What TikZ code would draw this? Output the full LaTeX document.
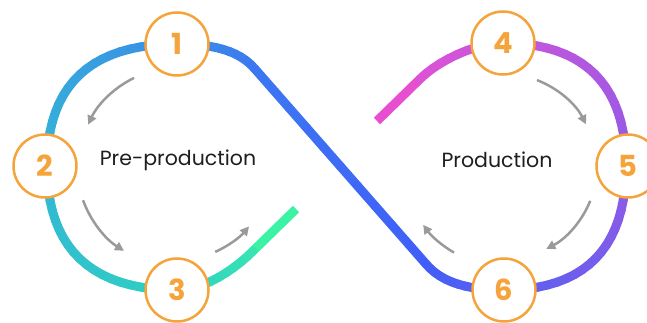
\documentclass[tikz,border=0pt]{standalone}
\usepackage{fontspec}
\setmainfont{Poppins}
\usetikzlibrary{arrows.meta,calc}

% colours along the loop, from the green end to the pink end
\definecolor{cA}{HTML}{3CF2A4}
\definecolor{cB}{HTML}{38E6B2}
\definecolor{cC}{HTML}{2ED0C2}
\definecolor{cD}{HTML}{33B6D6}
\definecolor{cE}{HTML}{3A8FE6}
\definecolor{cF}{HTML}{3C78F2}
\definecolor{cG}{HTML}{405EF8}
\definecolor{cH}{HTML}{5A60F0}
\definecolor{cI}{HTML}{925AE6}
\definecolor{cJ}{HTML}{C656DC}
\definecolor{cK}{HTML}{DC52D6}
\definecolor{cL}{HTML}{E84FD0}
\definecolor{ring}{HTML}{F5A33B}
\definecolor{arrowgray}{HTML}{9A9A9A}
\definecolor{labelink}{HTML}{1E1E1E}

% a thick stroke whose colour runs from #4 to #5 along the segment #2#3
\newcommand\gradseg[5]{%
  \path #2 #3 foreach \k in {0,...,#1}{coordinate[pos=\k/#1] (gp\k)};
  \foreach \k [count=\j from 0] in {1,...,#1}{%
    \pgfmathtruncatemacro\mixpct{100*(\k-0.5)/#1}%
    \draw[loopline, draw=#5!\mixpct!#4] (gp\j) -- (gp\k);
  }%
}

\tikzset{
  loopline/.style={line width=9pt, line cap=round},
  loopend/.style={line width=9pt, line cap=butt},
  stage/.style={circle, draw=ring, line width=2.5pt, fill=white,
    minimum size=63pt, inner sep=0pt, text=ring,
    font=\fontsize{29}{29}\selectfont\bfseries},
  phase/.style={text=labelink, font=\fontsize{20.5}{22}\selectfont},
  flow/.style={draw=arrowgray, line width=2.5pt,
    -{Triangle[length=9pt,width=9pt]}},
}

\begin{document}
\begin{tikzpicture}[x=1pt, y=1pt]
\useasboundingbox (0,0) rectangle (647,323);

% points on the loop
\coordinate (g0) at (296,114);
\coordinate (g1) at (253,72);
\coordinate (p3) at (177,33);
\coordinate (p2) at (47,157);
\coordinate (p1) at (177,279);
\coordinate (d1) at (255,254);
\coordinate (d2) at (426,59);
\coordinate (p6) at (504,33);
\coordinate (p5) at (626,157);
\coordinate (p4) at (503,280);
\coordinate (k1) at (420,244);
\coordinate (k0) at (377,202);

% the figure-eight stroke
\draw[loopend, draw=cA] (g0) -- (g1);
\draw[loopend, draw=cL] (k1) -- (k0);
\gradseg{10}{(g1)}{.. controls (235,54) and (205,33) .. (p3)}{cB}{cC}
\gradseg{20}{(p3)}{.. controls (91,33) and (47,75) .. (p2)}{cC}{cD}
\gradseg{20}{(p2)}{.. controls (47,238) and (91,279) .. (p1)}{cD}{cE}
\gradseg{12}{(p1)}{.. controls (212,279) and (239,273) .. (d1)}{cE}{cF}
\gradseg{10}{(d1)}{-- (d2)}{cF}{cG}
\gradseg{12}{(d2)}{.. controls (442,40) and (469,33) .. (p6)}{cG}{cH}
\gradseg{20}{(p6)}{.. controls (585,33) and (626,75) .. (p5)}{cH}{cI}
\gradseg{20}{(p5)}{.. controls (626,238) and (584,280) .. (p4)}{cI}{cJ}
\gradseg{10}{(p4)}{.. controls (475,280) and (438,262) .. (k1)}{cJ}{cK}

% stage markers
\node[stage] (n1) at (177,279) {1};
\node[stage] (n2) at (45,157) {2};
\node[stage] (n3) at (177,33) {3};
\node[stage] (n4) at (503,280) {4};
\node[stage] (n5) at (628,157) {5};
\node[stage] (n6) at (504,33) {6};

% phase titles
\node[phase] (pre) at (178,163) {Pre-production};
\node[phase] (prod) at (497,163) {Production};

% direction arrows inside each loop
\coordinate (lc) at (177,157);
\coordinate (rc) at (504,157);
\draw[flow] ($(lc)+(116:98)$) arc[start angle=116, end angle=155, radius=98];
\draw[flow] ($(lc)+(200:100)$) arc[start angle=200, end angle=238, radius=100];
\draw[flow] ($(lc)+(-66:94)$) arc[start angle=-66, end angle=-40, radius=94];
\draw[flow] ($(rc)+(69:92)$) arc[start angle=69, end angle=27, radius=92];
\draw[flow] ($(rc)+(-22:93)$) arc[start angle=-22, end angle=-63, radius=93];
\draw[flow] ($(rc)+(240:100)$) arc[start angle=240, end angle=216, radius=100];
\end{tikzpicture}
\end{document}
